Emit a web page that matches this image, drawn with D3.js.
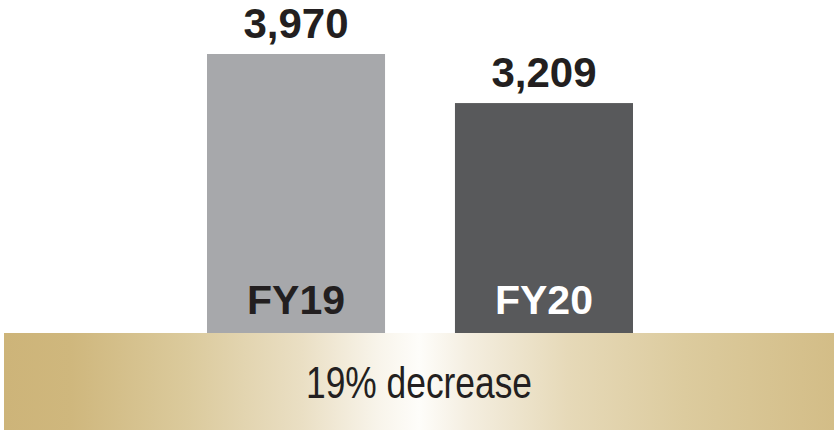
<!DOCTYPE html>
<html>
<head>
<meta charset="utf-8">
<script src="https://cdn.jsdelivr.net/npm/d3@7"></script>
<style>
  html, body { margin: 0; padding: 0; background: #ffffff; }
  svg { display: block; }
</style>
</head>
<body>
<div id="chart"></div>
<script>
// Fiscal-year totals
const categories = ["FY19", "FY20"];
const values = [3970, 3209];
const valueLabels = ["3,970", "3,209"];
const changeLabel = "19% decrease";

const W = 834, H = 430;
const barColors = ["#a7a8ab", "#58595b"];
const labelColors = ["#231f20", "#ffffff"];
const ink = "#231f20";
const bandTop = 333;

const svg = d3.select("#chart").append("svg")
  .attr("width", W).attr("height", H);

const x = d3.scaleBand()
  .domain(categories)
  .range([207, 633])
  .paddingInner(0.282)
  .paddingOuter(0);

const y = d3.scaleLinear()
  .domain([0, d3.max(values)])
  .range([310, 54]);

// Bars run down behind the summary band
svg.selectAll("rect.bar")
  .data(categories)
  .join("rect")
  .attr("class", "bar")
  .attr("x", d => x(d))
  .attr("width", x.bandwidth())
  .attr("y", (d, i) => y(values[i]))
  .attr("height", (d, i) => bandTop - y(values[i]))
  .attr("fill", (d, i) => barColors[i]);

// Value labels above bars
svg.selectAll("text.value")
  .data(categories)
  .join("text")
  .attr("class", "value")
  .attr("x", d => x(d) + x.bandwidth() / 2)
  .attr("y", (d, i) => y(values[i]) - 16)
  .attr("text-anchor", "middle")
  .attr("font-family", "'Liberation Sans', Arial, sans-serif")
  .attr("font-weight", "bold")
  .attr("font-size", 42)
  .attr("fill", ink)
  .text((d, i) => valueLabels[i]);

// Category labels inside bars
svg.selectAll("text.cat")
  .data(categories)
  .join("text")
  .attr("class", "cat")
  .attr("x", d => x(d) + x.bandwidth() / 2)
  .attr("y", 314)
  .attr("text-anchor", "middle")
  .attr("font-family", "'Liberation Sans', Arial, sans-serif")
  .attr("font-weight", "bold")
  .attr("font-size", 41)
  .attr("fill", (d, i) => labelColors[i])
  .text(d => d);

// Gold summary band with a bright centre
const defs = svg.append("defs");
const grad = defs.append("linearGradient")
  .attr("id", "gold")
  .attr("x1", "0%").attr("x2", "100%")
  .attr("y1", "0%").attr("y2", "0%");
[
  [0.00, "#cdb479"],
  [0.08, "#cfb77d"],
  [0.22, "#dbca9c"],
  [0.36, "#eadfc4"],
  [0.45, "#f8f4ea"],
  [0.50, "#fefdfa"],
  [0.56, "#f4eee0"],
  [0.68, "#e6d9b8"],
  [0.82, "#dccb9e"],
  [1.00, "#d3bd87"]
].forEach(([o, c]) => grad.append("stop").attr("offset", o).attr("stop-color", c));

svg.append("rect")
  .attr("x", 4)
  .attr("y", bandTop)
  .attr("width", W - 4)
  .attr("height", H - bandTop)
  .attr("fill", "url(#gold)");

svg.append("text")
  .attr("x", 419)
  .attr("y", 398)
  .attr("text-anchor", "middle")
  .attr("font-family", "'Liberation Sans', Arial, sans-serif")
  .attr("font-size", 44)
  .attr("fill", ink)
  .attr("textLength", 226)
  .attr("lengthAdjust", "spacingAndGlyphs")
  .text(changeLabel);
</script>
</body>
</html>
